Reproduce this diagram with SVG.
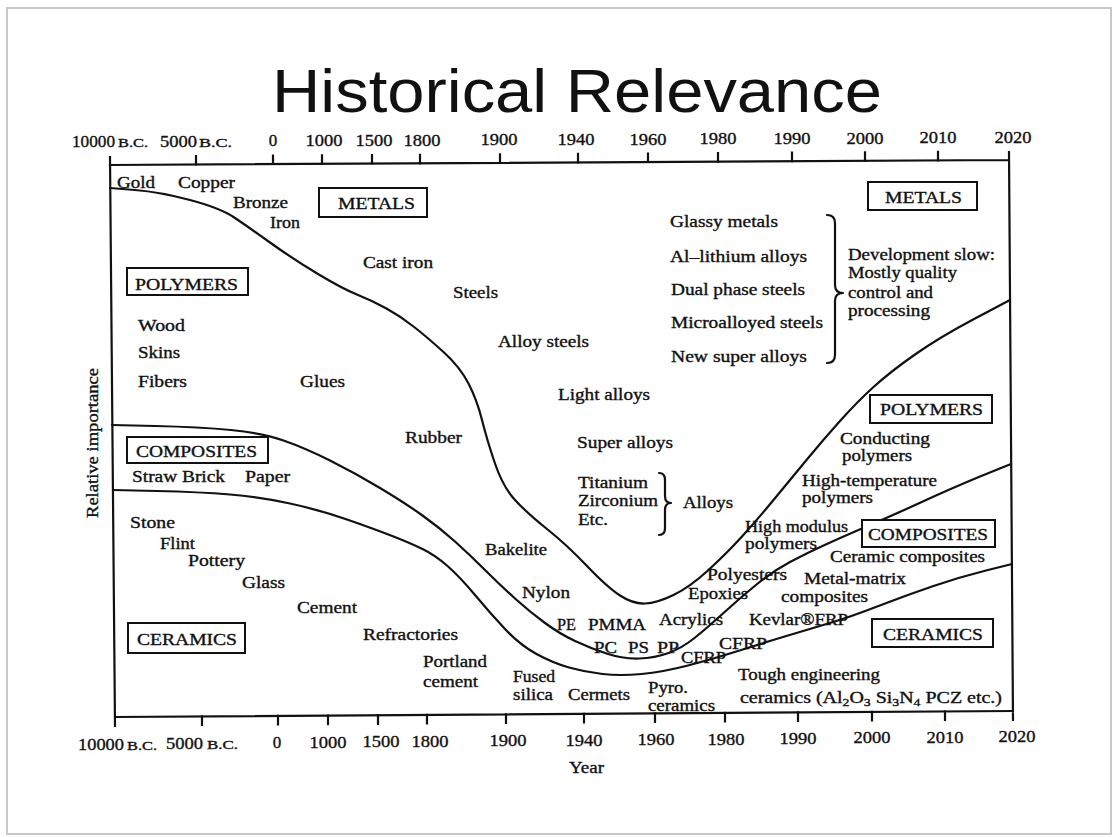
<svg xmlns="http://www.w3.org/2000/svg" width="1114" height="837" viewBox="0 0 1114 837">
<style>
.t{font-family:"Liberation Serif","Times New Roman",serif;font-size:16px;fill:#111;stroke:#111;stroke-width:0.35}
.a{font-family:"Liberation Serif","Times New Roman",serif;font-size:17px;fill:#111;stroke:#111;stroke-width:0.35}
.sc{font-size:12px}
.c{fill:none;stroke:#111;stroke-width:2.2;stroke-linecap:round;stroke-linejoin:round}
.ax{fill:none;stroke:#111;stroke-width:2.2;stroke-linecap:square}
.box{fill:#fff;stroke:#111;stroke-width:2}
.ttl{font-family:"Liberation Sans",Arial,sans-serif;font-size:62px;fill:#111}
</style>
<rect x="0" y="0" width="1114" height="837" fill="#fff"/>
<rect x="7" y="8" width="1104" height="826" fill="#fff" stroke="#c8c8c8" stroke-width="2"/>
<g id="title"><text class="ttl" x="272" y="112" textLength="610" lengthAdjust="spacingAndGlyphs">Historical Relevance</text></g>

<g id="axes">
<path class="ax" d="M110,157 L115,726 M1009,152 L1013,720 M110,165 L1009,160 M115,717 L1013,711"/>
<path class="ax" d="M196,164.5 V156 M273,164 V155.5 M322,163.8 V155.3 M372,163.5 V155 M420,163.3 V154.8 M500,162.8 V154.3 M578,162.4 V153.9 M648,162 V153.5 M718,161.6 V153.1 M792,161.2 V152.7 M865,160.8 V152.3 M938,160.4 V151.9"/>
<path class="ax" d="M202,716.4 V725 M278,715.9 V724.5 M328,715.6 V724.2 M378,715.2 V723.8 M427,714.9 V723.5 M506,714.4 V723 M584,713.9 V722.5 M655,713.4 V722 M725,712.9 V721.5 M798,712.4 V721 M872,711.9 V720.5 M945,711.5 V720"/>
<g id="top-labels">
<text class="a" x="72" y="147" textLength="43" lengthAdjust="spacingAndGlyphs">10000</text>
<text class="a sc" x="118" y="147" textLength="30" lengthAdjust="spacingAndGlyphs">B.C.</text>
<text class="a" x="160" y="146.6" textLength="37" lengthAdjust="spacingAndGlyphs">5000</text>
<text class="a sc" x="199" y="146.5" textLength="33" lengthAdjust="spacingAndGlyphs">B.C.</text>
<g text-anchor="middle">
<text class="a" x="273" y="146">0</text>
<text class="a" x="324" y="146" textLength="37" lengthAdjust="spacingAndGlyphs">1000</text>
<text class="a" x="374" y="145.7" textLength="37" lengthAdjust="spacingAndGlyphs">1500</text>
<text class="a" x="422" y="145.5" textLength="37" lengthAdjust="spacingAndGlyphs">1800</text>
<text class="a" x="499" y="145.2" textLength="37" lengthAdjust="spacingAndGlyphs">1900</text>
<text class="a" x="576" y="144.9" textLength="37" lengthAdjust="spacingAndGlyphs">1940</text>
<text class="a" x="648" y="144.5" textLength="37" lengthAdjust="spacingAndGlyphs">1960</text>
<text class="a" x="718" y="144.2" textLength="37" lengthAdjust="spacingAndGlyphs">1980</text>
<text class="a" x="792" y="143.9" textLength="37" lengthAdjust="spacingAndGlyphs">1990</text>
<text class="a" x="865" y="143.6" textLength="37" lengthAdjust="spacingAndGlyphs">2000</text>
<text class="a" x="938" y="143.3" textLength="37" lengthAdjust="spacingAndGlyphs">2010</text>
<text class="a" x="1013" y="143" textLength="37" lengthAdjust="spacingAndGlyphs">2020</text>
</g>
</g>
<g id="bottom-labels">
<text class="a" x="78" y="750" textLength="46" lengthAdjust="spacingAndGlyphs">10000</text>
<text class="a sc" x="127" y="749.6" textLength="30" lengthAdjust="spacingAndGlyphs">B.C.</text>
<text class="a" x="166" y="749.3" textLength="37" lengthAdjust="spacingAndGlyphs">5000</text>
<text class="a sc" x="207" y="748.9" textLength="31" lengthAdjust="spacingAndGlyphs">B.C.</text>
<g text-anchor="middle">
<text class="a" x="277" y="748.3">0</text>
<text class="a" x="328" y="747.9" textLength="37" lengthAdjust="spacingAndGlyphs">1000</text>
<text class="a" x="381" y="747.4" textLength="37" lengthAdjust="spacingAndGlyphs">1500</text>
<text class="a" x="430" y="747" textLength="37" lengthAdjust="spacingAndGlyphs">1800</text>
<text class="a" x="508" y="746.3" textLength="37" lengthAdjust="spacingAndGlyphs">1900</text>
<text class="a" x="584" y="745.7" textLength="37" lengthAdjust="spacingAndGlyphs">1940</text>
<text class="a" x="656" y="745.1" textLength="37" lengthAdjust="spacingAndGlyphs">1960</text>
<text class="a" x="726" y="744.5" textLength="37" lengthAdjust="spacingAndGlyphs">1980</text>
<text class="a" x="798" y="743.9" textLength="37" lengthAdjust="spacingAndGlyphs">1990</text>
<text class="a" x="872" y="743.2" textLength="37" lengthAdjust="spacingAndGlyphs">2000</text>
<text class="a" x="945" y="742.6" textLength="37" lengthAdjust="spacingAndGlyphs">2010</text>
<text class="a" x="1017" y="742" textLength="37" lengthAdjust="spacingAndGlyphs">2020</text>
</g>
</g>
<text class="a" x="569" y="773" textLength="35" lengthAdjust="spacingAndGlyphs">Year</text>
<text class="t" transform="translate(98,443) rotate(-90)" text-anchor="middle" textLength="150" lengthAdjust="spacingAndGlyphs">Relative importance</text>
</g>

<g id="curves">
<path id="metals-curve" class="c" d="M110,188 L135,190 Q160,192 190,200 Q220,208 233.5,217 Q247,226 270,242.5 Q293,259 318,274 Q343,289 358,295 Q373,301 386.5,308.5 Q400,316 413.5,326.5 Q427,337 443.5,352 Q460,367 468.5,383.5 Q477,400 482,420 Q487,440 495,463.5 Q503,487 515,500 Q527,513 547,529 Q567,545 587,566 Q607,587 620,595.5 Q633,604 645,603.5 Q657,603 673.5,595 Q690,587 708.5,570 Q727,553 742,536.5 Q757,520 773.5,500 Q790,480 806.5,460 Q823,440 840,421 Q857,402 873.5,387 Q890,372 915,354.5 Q940,337 975,318.5 L1010,300"/>
<path id="polymers-curve" class="c" d="M112,425 L155,426 Q200,427 231,430 Q262,433 283.5,440.5 Q305,448 330,460.5 Q355,473 380,488 Q405,503 422.5,515.5 Q440,528 455,541.5 Q470,555 485,570 Q500,585 515,598.5 Q530,612 545,623 Q560,634 575,641 Q590,648 606.5,653.5 Q623,659 639,658.5 Q655,658 668.5,653 Q682,648 694.5,638 Q707,628 723.5,613 Q740,598 756.5,584.5 Q773,571 790,562 Q807,553 823.5,545.5 Q840,538 855,531.5 Q870,525 885,518.5 Q900,512 925,500.5 Q950,489 980,476.5 L1011,464"/>
<path id="composites-curve" class="c" d="M113,490 L156.5,491 Q200,492 230,494.5 Q260,497 290,503.5 Q320,510 348.5,520 Q377,530 393.5,536.5 Q410,543 422.5,549 Q435,555 447.5,566 Q460,577 475,595 Q490,613 505,629 Q520,645 536.5,654 Q553,663 569,667.5 Q585,672 602.5,674 Q620,676 641.5,674 Q663,672 688,665.5 Q713,659 738,651 Q763,643 788,635.5 Q813,628 831.5,622.5 Q850,617 878.5,606 Q907,595 933.5,586 Q960,577 986,570.5 L1012,564"/>
<path id="alloys-brace" class="c" stroke-width="1.8" d="M659,473 Q665,473 665,480 L665,496 Q665,503 671,503 Q665,503 665,510 L665,528 Q665,535 659,535"/>
<path id="metals-brace" class="c" stroke-width="1.8" d="M827,215 Q835,215 835,223 L835,285 Q835,293 843,293 Q835,293 835,301 L835,355 Q835,363 827,363"/>
</g>

<g id="box-metals-left"><rect class="box" x="319" y="188" width="108" height="29"/><text class="t" x="338" y="209" textLength="77" lengthAdjust="spacingAndGlyphs">METALS</text></g>
<g id="box-polymers-left"><rect class="box" x="127" y="268" width="121" height="27"/><text class="t" x="135" y="290" textLength="103" lengthAdjust="spacingAndGlyphs">POLYMERS</text></g>
<g id="box-composites-left"><rect class="box" x="127" y="437" width="141" height="26"/><text class="t" x="136" y="457" textLength="121" lengthAdjust="spacingAndGlyphs">COMPOSITES</text></g>
<g id="box-ceramics-left"><rect class="box" x="128" y="623" width="117" height="30"/><text class="t" x="137" y="645" textLength="100" lengthAdjust="spacingAndGlyphs">CERAMICS</text></g>
<g id="box-metals-right"><rect class="box" x="868" y="182" width="109" height="28"/><text class="t" x="885" y="203" textLength="77" lengthAdjust="spacingAndGlyphs">METALS</text></g>
<g id="box-polymers-right"><rect class="box" x="870" y="395" width="122" height="28"/><text class="t" x="880" y="415" textLength="103" lengthAdjust="spacingAndGlyphs">POLYMERS</text></g>
<g id="box-composites-right"><rect class="box" x="862" y="520" width="133" height="27"/><text class="t" x="868" y="540" textLength="120" lengthAdjust="spacingAndGlyphs">COMPOSITES</text></g>
<g id="box-ceramics-right"><rect class="box" x="872" y="619" width="121" height="28"/><text class="t" x="883" y="640" textLength="100" lengthAdjust="spacingAndGlyphs">CERAMICS</text></g>

<g id="labels-metals">
<text class="t" x="117" y="188" textLength="38" lengthAdjust="spacingAndGlyphs">Gold</text>
<text class="t" x="178" y="188" textLength="57" lengthAdjust="spacingAndGlyphs">Copper</text>
<text class="t" x="233" y="208" textLength="55" lengthAdjust="spacingAndGlyphs">Bronze</text>
<text class="t" x="270" y="228" textLength="30" lengthAdjust="spacingAndGlyphs">Iron</text>
<text class="t" x="363" y="268" textLength="70" lengthAdjust="spacingAndGlyphs">Cast iron</text>
<text class="t" x="453" y="298" textLength="45" lengthAdjust="spacingAndGlyphs">Steels</text>
<text class="t" x="498" y="347" textLength="91" lengthAdjust="spacingAndGlyphs">Alloy steels</text>
<text class="t" x="558" y="400" textLength="92" lengthAdjust="spacingAndGlyphs">Light alloys</text>
<text class="t" x="577" y="448" textLength="96" lengthAdjust="spacingAndGlyphs">Super alloys</text>
<text class="t" x="578" y="488" textLength="70" lengthAdjust="spacingAndGlyphs">Titanium</text>
<text class="t" x="578" y="506" textLength="80" lengthAdjust="spacingAndGlyphs">Zirconium</text>
<text class="t" x="578" y="525" textLength="30" lengthAdjust="spacingAndGlyphs">Etc.</text>
<text class="t" x="683" y="508" textLength="50" lengthAdjust="spacingAndGlyphs">Alloys</text>
<text class="t" x="670" y="227" textLength="108" lengthAdjust="spacingAndGlyphs">Glassy metals</text>
<text class="t" x="670" y="262" textLength="137" lengthAdjust="spacingAndGlyphs">Al–lithium alloys</text>
<text class="t" x="671" y="295" textLength="134" lengthAdjust="spacingAndGlyphs">Dual phase steels</text>
<text class="t" x="671" y="328" textLength="152" lengthAdjust="spacingAndGlyphs">Microalloyed steels</text>
<text class="t" x="671" y="362" textLength="136" lengthAdjust="spacingAndGlyphs">New super alloys</text>
<text class="t" x="848" y="260" textLength="147" lengthAdjust="spacingAndGlyphs">Development slow:</text>
<text class="t" x="848" y="278" textLength="109" lengthAdjust="spacingAndGlyphs">Mostly quality</text>
<text class="t" x="848" y="298" textLength="85" lengthAdjust="spacingAndGlyphs">control and</text>
<text class="t" x="848" y="316" textLength="82" lengthAdjust="spacingAndGlyphs">processing</text>
</g>

<g id="labels-polymers">
<text class="t" x="138" y="331" textLength="47" lengthAdjust="spacingAndGlyphs">Wood</text>
<text class="t" x="138" y="358" textLength="42" lengthAdjust="spacingAndGlyphs">Skins</text>
<text class="t" x="138" y="387" textLength="49" lengthAdjust="spacingAndGlyphs">Fibers</text>
<text class="t" x="300" y="387" textLength="45" lengthAdjust="spacingAndGlyphs">Glues</text>
<text class="t" x="405" y="443" textLength="57" lengthAdjust="spacingAndGlyphs">Rubber</text>
<text class="t" x="485" y="555" textLength="62" lengthAdjust="spacingAndGlyphs">Bakelite</text>
<text class="t" x="522" y="598" textLength="48" lengthAdjust="spacingAndGlyphs">Nylon</text>
<text class="t" x="557" y="630" textLength="19" lengthAdjust="spacingAndGlyphs">PE</text>
<text class="t" x="588" y="630" textLength="58" lengthAdjust="spacingAndGlyphs">PMMA</text>
<text class="t" x="594" y="653" textLength="23" lengthAdjust="spacingAndGlyphs">PC</text>
<text class="t" x="628" y="653" textLength="21" lengthAdjust="spacingAndGlyphs">PS</text>
<text class="t" x="657" y="653" textLength="22" lengthAdjust="spacingAndGlyphs">PP</text>
<text class="t" x="659" y="625" textLength="64" lengthAdjust="spacingAndGlyphs">Acrylics</text>
<text class="t" x="688" y="599" textLength="60" lengthAdjust="spacingAndGlyphs">Epoxies</text>
<text class="t" x="707" y="580" textLength="80" lengthAdjust="spacingAndGlyphs">Polyesters</text>
<text class="t" x="745" y="532" textLength="103" lengthAdjust="spacingAndGlyphs">High modulus</text>
<text class="t" x="745" y="549" textLength="72" lengthAdjust="spacingAndGlyphs">polymers</text>
<text class="t" x="802" y="486" textLength="135" lengthAdjust="spacingAndGlyphs">High-temperature</text>
<text class="t" x="802" y="503" textLength="71" lengthAdjust="spacingAndGlyphs">polymers</text>
<text class="t" x="840" y="444" textLength="90" lengthAdjust="spacingAndGlyphs">Conducting</text>
<text class="t" x="842" y="461" textLength="70" lengthAdjust="spacingAndGlyphs">polymers</text>
</g>

<g id="labels-composites">
<text class="t" x="132" y="482" textLength="93" lengthAdjust="spacingAndGlyphs">Straw Brick</text>
<text class="t" x="245" y="482" textLength="45" lengthAdjust="spacingAndGlyphs">Paper</text>
<text class="t" x="830" y="562" textLength="155" lengthAdjust="spacingAndGlyphs">Ceramic composites</text>
<text class="t" x="804" y="584" textLength="102" lengthAdjust="spacingAndGlyphs">Metal-matrix</text>
<text class="t" x="781" y="602" textLength="87" lengthAdjust="spacingAndGlyphs">composites</text>
<text class="t" x="749" y="625" textLength="99" lengthAdjust="spacingAndGlyphs">Kevlar®FRP</text>
<text class="t" x="719" y="649" textLength="48" lengthAdjust="spacingAndGlyphs">CFRP</text>
<text class="t" x="681" y="663" textLength="45" lengthAdjust="spacingAndGlyphs">CFRP</text>
</g>

<g id="labels-ceramics">
<text class="t" x="130" y="528" textLength="45" lengthAdjust="spacingAndGlyphs">Stone</text>
<text class="t" x="160" y="549" textLength="35" lengthAdjust="spacingAndGlyphs">Flint</text>
<text class="t" x="188" y="566" textLength="57" lengthAdjust="spacingAndGlyphs">Pottery</text>
<text class="t" x="242" y="588" textLength="43" lengthAdjust="spacingAndGlyphs">Glass</text>
<text class="t" x="297" y="613" textLength="60" lengthAdjust="spacingAndGlyphs">Cement</text>
<text class="t" x="363" y="640" textLength="95" lengthAdjust="spacingAndGlyphs">Refractories</text>
<text class="t" x="423" y="667" textLength="64" lengthAdjust="spacingAndGlyphs">Portland</text>
<text class="t" x="423" y="687" textLength="55" lengthAdjust="spacingAndGlyphs">cement</text>
<text class="t" x="513" y="682" textLength="42" lengthAdjust="spacingAndGlyphs">Fused</text>
<text class="t" x="513" y="700" textLength="40" lengthAdjust="spacingAndGlyphs">silica</text>
<text class="t" x="568" y="700" textLength="62" lengthAdjust="spacingAndGlyphs">Cermets</text>
<text class="t" x="648" y="693" textLength="40" lengthAdjust="spacingAndGlyphs">Pyro.</text>
<text class="t" x="648" y="711" textLength="67" lengthAdjust="spacingAndGlyphs">ceramics</text>
<text class="t" x="738" y="680" textLength="142" lengthAdjust="spacingAndGlyphs">Tough engineering</text>
<text class="t" x="740" y="703" textLength="262" lengthAdjust="spacingAndGlyphs">ceramics (Al<tspan font-size="11" dy="3">2</tspan><tspan dy="-3">O</tspan><tspan font-size="11" dy="3">3</tspan><tspan dy="-3"> Si</tspan><tspan font-size="11" dy="3">3</tspan><tspan dy="-3">N</tspan><tspan font-size="11" dy="3">4</tspan><tspan dy="-3">  PCZ etc.)</tspan></text>
</g>
</svg>
